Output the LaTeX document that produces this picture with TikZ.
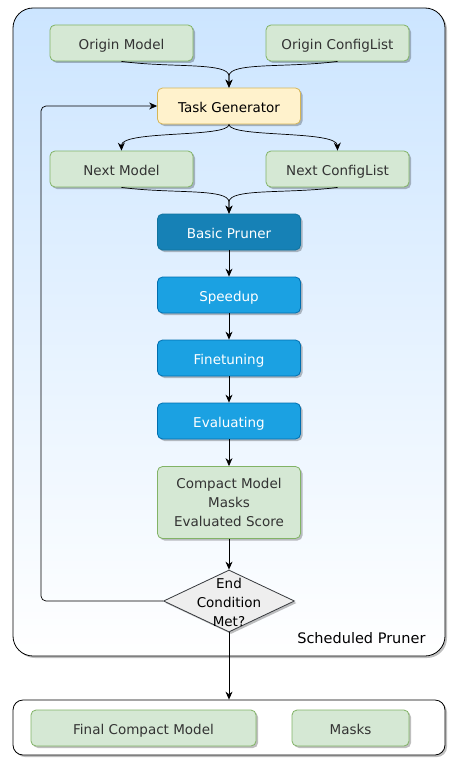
\documentclass[tikz,border=0pt]{standalone}
\usepackage{fontspec}
\setmainfont{DejaVu Sans}
\usetikzlibrary{arrows.meta,shapes.geometric,shadows}
\definecolor{gfill}{HTML}{D5E8D4}
\definecolor{gline}{HTML}{82B366}
\definecolor{yfill}{HTML}{FFF2CC}
\definecolor{yline}{HTML}{D6B656}
\definecolor{bdfill}{HTML}{1681B6}
\definecolor{bdline}{HTML}{10739E}
\definecolor{bfill}{HTML}{1BA1E2}
\definecolor{bline}{HTML}{006EAF}
\definecolor{dfill}{HTML}{EEEEEE}
\definecolor{dline}{HTML}{36393D}
\definecolor{txt}{HTML}{333333}
\definecolor{topblue}{HTML}{CCE5FF}
\tikzset{
  shad/.style={drop shadow={shadow xshift=2pt,shadow yshift=-2pt,opacity=0.25,fill=black}},
  box/.style={draw,rounded corners=5pt,minimum width=143pt,minimum height=36pt,inner sep=0pt,font=\fontsize{13.5}{19}\selectfont,align=center,shad,line width=0.8pt},
  gbox/.style={box,fill=gfill,draw=gline,text=txt},
  ybox/.style={box,fill=yfill,draw=yline,text=black},
  bdbox/.style={box,fill=bdfill,draw=bdline,text=white},
  bbox/.style={box,fill=bfill,draw=bline,text=white},
  one/.style={text height=12.6pt,text depth=0pt},
  arr/.style={draw=black,line width=0.7pt,-{Stealth[length=8pt,width=7pt]}},
}
\begin{document}
\begin{tikzpicture}[x=1pt,y=-1pt]
\useasboundingbox (0,0) rectangle (459,768);
% outer container
\draw[draw=black,line width=0.8pt,rounded corners=20pt,top color=topblue,bottom color=white,shad] (13,8) rectangle (445,656);
\node[anchor=east,font=\fontsize{14.5}{19}\selectfont] (sp_label) at (429,638) {Scheduled Pruner};
% bottom container
\node[draw=black,line width=0.8pt,fill=white,rounded corners=10pt,minimum width=432pt,minimum height=55pt,shad] (out) at (229,727.5) {};
\node[gbox,one,minimum width=225pt] (fcm) at (143.5,728) {Final Compact Model};
\node[gbox,one,minimum width=117pt] (mk) at (350.5,728) {Masks};
% nodes
\node[gbox,one] (om) at (121.5,43) {Origin Model};
\node[gbox,one] (oc) at (337.5,43) {Origin ConfigList};
\node[ybox,one] (tg) at (229,106) {Task Generator};
\node[gbox,one] (nm) at (121.5,169) {Next Model};
\node[gbox,one] (nc) at (337.5,169) {Next ConfigList};
\node[bdbox,one] (bp) at (229,232) {Basic Pruner};
\node[bbox,one] (spd) at (229,295) {Speedup};
\node[bbox,one] (ft) at (229,358) {Finetuning};
\node[bbox,one] (ev) at (229,421) {Evaluating};
\node[gbox,minimum height=72pt] (cm) at (229,502.5) {Compact Model\\Masks\\Evaluated Score};
\node[diamond,draw=dline,fill=dfill,line width=0.8pt,minimum width=131pt,minimum height=62pt,inner sep=0pt,shad] (dia) at (229,601) {};
\node[align=center,font=\fontsize{13.5}{19}\selectfont,text=black,inner sep=0pt] (dtext) at (229,602.5) {End\\Condition\\Met?};
% connectors
\draw[arr] (om.south) .. controls (170,68) and (229,62) .. (229,76) -- (tg.north);
\draw[arr] (oc.south) .. controls (288,68) and (229,62) .. (229,76) -- (tg.north);
\draw[arr] (tg.south) .. controls (229,138) and (121,130) .. (nm.north);
\draw[arr] (tg.south) .. controls (229,138) and (337,130) .. (nc.north);
\draw[arr] (nm.south) .. controls (170,194) and (229,188) .. (229,202) -- (bp.north);
\draw[arr] (nc.south) .. controls (288,194) and (229,188) .. (229,202) -- (bp.north);
\draw[arr] (bp) -- (spd);
\draw[arr] (spd) -- (ft);
\draw[arr] (ft) -- (ev);
\draw[arr] (ev) -- (cm);
\draw[arr] (cm.south) -- (dia.north);
\coordinate (lp) at (41,106);
\draw[arr,rounded corners=5pt] (dia.west) -| (lp) -- (tg.west);
\draw[arr] (dia.south) -- (out.north);
\end{tikzpicture}
\end{document}
